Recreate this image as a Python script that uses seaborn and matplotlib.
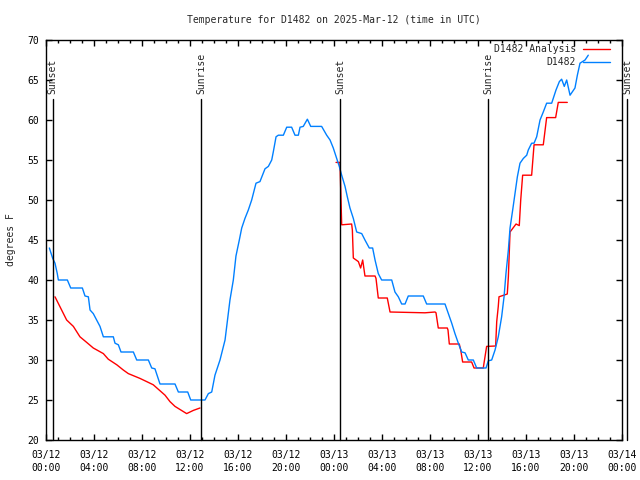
import pandas as pd
import matplotlib
matplotlib.use("Agg")
import matplotlib.pyplot as plt
import matplotlib.dates as mdates
import seaborn as sns

# hours since 2025-03-12 00:00 UTC and temperatures (deg F)
analysis_hours_1 = [0.75, 1.72, 2.28, 2.83, 3.39, 3.94, 4.78, 5.19, 5.9, 6.44,
                    6.86, 7.83, 8.39, 8.94, 9.92, 10.33, 10.75, 11.72, 12.28,
                    12.83]
analysis_temps_1 = [37.9, 35.0, 34.2, 32.9, 32.2, 31.5, 30.8, 30.1, 29.4, 28.75,
                    28.3, 27.7, 27.3, 26.9, 25.6, 24.8, 24.2, 23.3, 23.7, 24.0]

analysis_hours_2 = [24.17, 24.5, 24.64, 25.47, 25.53, 25.61, 26.03, 26.22,
                    26.39, 26.58, 27.42, 27.5, 27.69, 28.44, 28.67, 31.58,
                    32.42, 32.5, 32.69, 33.44, 33.5, 33.61, 34.44, 34.56,
                    34.72, 35.47, 35.67, 36.44, 36.5, 36.72, 37.47, 37.56,
                    37.69, 37.75, 38.44, 38.53, 38.67, 39.17, 39.44, 39.56,
                    39.72, 40.47, 40.67, 41.44, 41.72, 42.47, 42.69, 43.44]
analysis_temps_2 = [54.7, 54.7, 46.9, 47.0, 46.25, 42.75, 42.3, 41.5,
                    42.5, 40.5, 40.5, 40.2, 37.75, 37.75, 36.0, 35.9,
                    36.0, 35.9, 34.0, 34.0, 33.75, 32.0, 32.0, 31.25,
                    29.75, 29.75, 29.0, 29.0, 29.6, 31.7, 31.75, 34.8,
                    36.7, 37.9, 38.25, 40.4, 46.0, 47.0, 46.8, 50.0,
                    53.1, 53.1, 56.9, 56.9, 60.3, 60.3, 62.2, 62.2]

obs_hours = [0.28, 0.56, 0.75, 0.94, 1.03, 1.78, 2.06, 3.03, 3.25, 3.53, 3.67,
             3.94, 4.5, 4.78, 5.61, 5.75, 6.03, 6.25, 7.28, 7.56, 8.53, 8.81,
             9.08, 9.5, 10.75, 11.03, 11.81, 12.06, 13.25, 13.53, 13.81,
             14.08, 14.5, 14.92, 15.33, 15.61, 15.83, 16.11, 16.31, 16.58,
             16.86, 17.14, 17.5, 17.83, 18.25, 18.53, 18.81, 18.94, 19.17,
             19.36, 19.78, 20.06, 20.47, 20.75, 21.03, 21.17, 21.44, 21.78,
             22.06, 22.97, 23.39, 23.67, 23.94, 24.22, 24.44, 24.64, 24.92,
             25.11, 25.33, 25.61, 25.89, 26.31, 26.58, 26.94, 27.22, 27.42,
             27.69, 27.97, 28.81, 29.08, 29.36, 29.64, 29.92, 30.19, 31.44,
             31.72, 33.25, 33.53, 33.81, 34.08, 34.36, 34.64, 34.92, 35.19,
             35.61, 35.89, 36.67, 36.86, 37.14, 37.42, 37.69, 37.97, 38.17,
             38.33, 38.53, 38.67, 38.89, 39.08, 39.28, 39.5, 39.78, 40.06,
             40.19, 40.47, 40.67, 40.89, 41.17, 41.44, 41.72, 42.14, 42.5,
             42.78, 42.97, 43.19, 43.39, 43.67, 44.08, 44.28, 44.5, 44.92,
             45.19]
obs_temps = [44.0, 42.7, 42.1, 40.8, 40.0, 40.0, 39.0, 39.0, 38.0, 37.9, 36.25,
             35.8, 34.2, 32.9, 32.9, 32.1, 31.9, 31.0, 31.0, 30.0, 30.0, 29.0,
             28.9, 27.0, 27.0, 26.0, 26.0, 25.0, 25.0, 25.8, 26.0,
             28.1, 30.0, 32.5, 37.5, 40.0, 43.0, 45.0, 46.5, 47.7,
             48.75, 50.0, 52.1, 52.3, 53.9, 54.2, 55.0, 56.0, 57.9,
             58.1, 58.1, 59.1, 59.1, 58.1, 58.1, 59.1, 59.2, 60.1,
             59.2, 59.2, 58.1, 57.5, 56.5, 55.2, 54.2, 53.1, 51.7,
             50.4, 49.0, 47.7, 46.0, 45.8, 45.0, 44.0, 44.0, 42.5,
             40.8, 40.0, 40.0, 38.5, 37.9, 37.0, 37.0, 38.0, 38.0,
             37.0, 37.0, 35.8, 34.6, 33.3, 32.1, 31.0, 30.9, 30.0,
             30.0, 29.0, 29.0, 29.9, 30.0, 31.25, 32.9, 35.4, 37.9,
             40.8, 43.75, 46.5, 48.75, 50.8, 52.9, 54.6, 55.2, 55.6,
             56.25, 57.1, 57.1, 57.9, 60.0, 61.0, 62.1, 62.1, 63.75,
             64.8, 65.1, 64.2, 65.0, 63.1, 64.0, 65.6, 67.1, 67.5,
             68.1]

# sunrise / sunset markers (hours since start)
event_hours = [0.56, 12.94, 24.53, 36.83, 48.42]
event_names = ["Sunset", "Sunrise", "Sunset", "Sunrise", "Sunset"]

start = pd.Timestamp("2025-03-12 00:00")


def to_time(hours):
    return start + pd.to_timedelta(hours, unit="h")


frames = [
    pd.DataFrame({"hours": analysis_hours_1, "temp": analysis_temps_1,
                  "series": "D1482 Analysis", "seg": 1}),
    pd.DataFrame({"hours": analysis_hours_2, "temp": analysis_temps_2,
                  "series": "D1482 Analysis", "seg": 2}),
    pd.DataFrame({"hours": obs_hours, "temp": obs_temps,
                  "series": "D1482", "seg": 3}),
]
df = pd.concat(frames, ignore_index=True)
df["time"] = to_time(df["hours"])

sns.set_style("ticks")
plt.rcParams["font.family"] = ["DejaVu Sans Mono"]

fig = plt.figure(figsize=(6.4, 4.8), dpi=100)
ax = fig.add_axes([46 / 640, 40 / 480, 576 / 640, 400 / 480])

sns.lineplot(data=df, x="time", y="temp", hue="series", units="seg",
             estimator=None, hue_order=["D1482 Analysis", "D1482"],
             palette={"D1482 Analysis": "#ff0000", "D1482": "#0080ff"},
             linewidth=1.0, ax=ax)

# sunrise / sunset lines and labels
for h, name in zip(event_hours, event_names):
    t = to_time(h)
    ax.plot([t, t], [20, 62.6], color="black", lw=1.0, clip_on=False)
    ax.text(t, 63.3, name, rotation=90, ha="center", va="bottom",
            fontsize=7, clip_on=False)

ax.set_xlim(to_time(0), to_time(48))
ax.set_ylim(20, 70)
ax.set_yticks(range(20, 71, 5))

ax.xaxis.set_major_locator(mdates.HourLocator(byhour=range(0, 24, 4)))
ax.xaxis.set_minor_locator(mdates.HourLocator())
ax.xaxis.set_major_formatter(mdates.DateFormatter("%m/%d\n%H:%M"))

ax.tick_params(axis="both", which="both", direction="in", top=True,
               right=True, colors="black", labelsize=7, width=1.0)
ax.tick_params(axis="both", which="major", length=4.5)
ax.tick_params(axis="both", which="minor", length=2.5)
ax.tick_params(axis="x", which="major", pad=7)
ax.tick_params(axis="y", which="major", pad=5)
for lab in ax.get_xticklabels():
    lab.set_linespacing(1.35)

for sp in ax.spines.values():
    sp.set_color("black")
    sp.set_linewidth(1.0)

ax.set_xlabel("")
ax.set_ylabel("degrees F", fontsize=7)
ax.yaxis.set_label_coords(-0.052, 0.5)
ax.set_title("Temperature for D1482 on 2025-Mar-12 (time in UTC)",
             fontsize=7, pad=12)

leg = ax.legend(loc="upper right", bbox_to_anchor=(0.979, 0.99),
                frameon=False, markerfirst=False, fontsize=7,
                handlelength=2.8, handletextpad=0.7, labelspacing=0.35,
                borderpad=0, borderaxespad=0)

plt.savefig("out.png", dpi=100)
